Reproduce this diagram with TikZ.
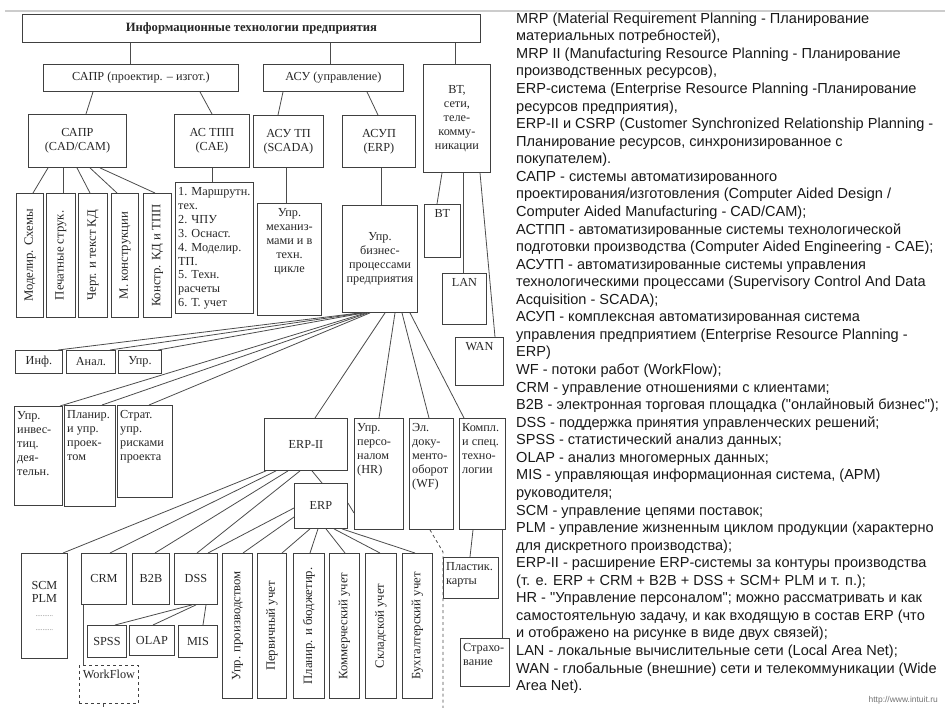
\documentclass[tikz,border=0pt]{standalone}
\usepackage{fontspec}
\setmainfont{Liberation Serif}
\newfontfamily\legendfont{Liberation Sans}
\begin{document}
\begin{tikzpicture}[x=1bp, y=-1bp,
	box/.style={draw=black!75, line width=0.9bp, inner sep=0pt, anchor=north west, align=center, text=black!85, font=\fontsize{12.3}{14}\selectfont},
	sz/.style 2 args={minimum width=#1bp, minimum height=#2bp},
	lbl/.style={inner xsep=3bp, inner ysep=5bp, align=left, text=black!85, font=\fontsize{12.3}{14}\selectfont},
	tl/.style={label={[lbl, anchor=north west]north west:{#1}}},
	tc/.style={label={[lbl, anchor=north, align=center]north:{#1}}},
	vert/.style={font=\fontsize{12.8}{14}\selectfont},
	link/.style={draw=black!70, line width=0.8bp}]
	\useasboundingbox (0,0) rectangle (945,708);
	\draw[black!20, line width=1.5bp] (5,11) -- (945,11);

	% top levels
	\node[box, sz={458}{28}, font=\fontsize{12.7}{14}\selectfont\bfseries] (title) at (22,14) {Информационные технологии предприятия};
	\node[box, sz={195}{27}] (sapr) at (43,64) {САПР (проектир. – изгот.)};
	\node[box, sz={140}{27}] (asu) at (263,64) {АСУ (управление)};
	\node[box, sz={67}{108}] (vt) at (423,64) {ВТ,\\сети,\\теле-\\комму-\\никации};

	\node[box, sz={98}{53}] (cadcam) at (28,114) {САПР\\(CAD/CAM)};
	\node[box, sz={75}{53}] (astpp) at (174,114) {АС ТПП\\(CAE)};
	\node[box, sz={70}{52}] (asutp) at (253,115) {АСУ ТП\\(SCADA)};
	\node[box, sz={73}{52}] (asup) at (342,115) {АСУП\\(ERP)};

	% CAD/CAM
	\node[box, vert, sz={27}{124}] (m1) at (16,193) {\rotatebox{90}{Моделир. Схемы}};
	\node[box, vert, sz={29}{124}] (m2) at (46,193) {\rotatebox{90}{Печатные струк.}};
	\node[box, vert, sz={29}{124}] (m3) at (78,193) {\rotatebox{90}{Черт. и текст КД}};
	\node[box, vert, sz={27}{124}] (m4) at (111,193) {\rotatebox{90}{М. конструкции}};
	\node[box, vert, sz={28}{124}] (m5) at (143,193) {\rotatebox{90}{Констр. КД и ТПП}};
	\node[box, sz={78}{131}, tl={1. Маршрутн.\\тех.\\2. ЧПУ\\3. Оснаст.\\4. Моделир.\\ТП.\\5. Техн.\\расчеты\\6. Т. учет}] (tpplist) at (175,182) {};

	% ASU
	\node[box, sz={64}{112}, tc={Упр.\\механиз-\\мами и в\\техн.\\цикле}] (mech) at (257,203) {};
	\node[box, sz={75}{107}] (bp) at (342,205) {Упр.\\бизнес-\\процессами\\предприятия};

	% VT
	\node[box, sz={36}{53}, tc={ВТ}] (vtsub) at (424,204) {};
	\node[box, sz={44}{51}, tc={LAN}] (lan) at (442,273) {};
	\node[box, sz={48}{48}, tc={WAN}] (wan) at (455,337) {};

	\node[box, sz={47}{23}] (inf) at (15,350) {Инф.};
	\node[box, sz={49}{23}] (anal) at (66,350) {Анал.};
	\node[box, sz={43}{23}] (upr) at (118,350) {Упр.};

	\node[box, sz={48}{99}, tl={Упр.\\инвес-\\тиц.\\дея-\\тельн.}] (inv) at (14,406) {};
	\node[box, sz={51}{101}, tl={Планир.\\и упр.\\проек-\\том}] (plan) at (64,405) {};
	\node[box, sz={55}{92}, tl={Страт.\\упр.\\рисками\\проекта}] (strat) at (117,405) {};

	% ERP
	\node[box, sz={83}{52}] (erp2) at (264,418) {ERP-II};
	\node[box, sz={53}{45}] (erp) at (294,483) {ERP};
	\node[box, sz={49}{111}, tl={Упр.\\персо-\\налом\\(HR)}] (hr) at (354,418) {};
	\node[box, sz={44}{111}, tl={Эл.\\доку-\\менто-\\оборот\\(WF)}] (wf) at (409,418) {};
	\node[box, sz={46}{111}, tl={Компл.\\и спец.\\техно-\\логии}] (kompl) at (459,418) {};

	\node[box, sz={46}{105}] (scm) at (21,553) {SCM\\PLM\\{\color{black!55}\fontsize{7}{14}\selectfont ..........}\\{\color{black!55}\fontsize{7}{12}\selectfont ..........}};
	\node[box, sz={45}{51}] (crm) at (81,553) {CRM};
	\node[box, sz={37}{51}] (b2b) at (132,553) {B2B};
	\node[box, sz={43}{51}] (dss) at (174,553) {DSS};
	\node[box, sz={39}{32}] (spss) at (87,625) {SPSS};
	\node[box, sz={45}{30}] (olap) at (129,625) {OLAP};
	\node[box, sz={39}{32}] (mis) at (178,625) {MIS};
	\node[box, sz={59}{38}, dashed, tc={WorkFlow}] (wflow) at (79,665) {};

	\node[box, vert, sz={30}{145}] (uprpr) at (222,553) {\rotatebox{90}{Упр. производством}};
	\node[box, vert, sz={29}{145}] (perv) at (257,553) {\rotatebox{90}{Первичный учет}};
	\node[box, vert, sz={31}{145}] (planb) at (293,553) {\rotatebox{90}{Планир. и бюджетир.}};
	\node[box, vert, sz={30}{145}] (komm) at (329,553) {\rotatebox{90}{Коммерческий учет}};
	\node[box, vert, sz={31}{145}] (sklad) at (365,553) {\rotatebox{90}{Складской учет}};
	\node[box, vert, sz={30}{145}] (buh) at (402,553) {\rotatebox{90}{Бухгалтерский учет}};

	\node[box, sz={55}{41}, tl={Пластик.\\карты}] (plast) at (443,557) {};
	\node[box, sz={49}{48}, tl={Страхо-\\вание}] (strah) at (460,638) {};

	% connectors
	\draw[link] (title.south -| 130,0) -- (sapr.north -| 130,0);
	\draw[link] (title.south -| 330,0) -- (asu.north -| 330,0);
	\draw[link] (title.south -| 455,0) -- (vt.north -| 455,0);
	\draw[link] (sapr.south -| 93,0) -- (cadcam.north -| 86,0);
	\draw[link] (sapr.south -| 200,0) -- (astpp.north -| 212,0);
	\draw[link] (asu.south -| 283,0) -- (asutp.north -| 278,0);
	\draw[link] (asu.south -| 367,0) -- (asup.north -| 378,0);

	\foreach \sx/\tg/\tx in {48/m1/33, 63/m2/63, 77/m3/90, 90/m4/117, 100/m5/155}
		\draw[link] (cadcam.south -| \sx,0) -- (\tg.north -| \tx,0);
	\draw[link] (astpp.south -| 212,0) -- (tpplist.north -| 212,0);
	\draw[link] (asutp.south -| 286,0) -- (mech.north -| 286,0);
	\draw[link] (asup.south -| 381,0) -- (bp.north -| 381,0);

	\draw[link] (vt.south -| 442,0) -- (vtsub.north -| 437,0);
	\draw[link] (vt.south -| 463,0) -- (lan.north -| 463,0);
	\draw[link] (vt.south -| 480,0) -- (wan.north -| 495,0);

	\foreach \sx/\tg/\tx in {360/inf/58, 362/anal/110, 364/upr/158, 366/inv/60, 368/plan/102, 370/strat/149}
		\draw[link] (bp.south -| \sx,0) -- (\tg.north -| \tx,0);
	\foreach \sx/\tg/\tx in {385/erp2/315, 395/hr/379, 402/wf/429, 410/kompl/464}
		\draw[link] (bp.south -| \sx,0) -- (\tg.north -| \tx,0);

	\draw[link] (erp2.south -| 312,0) -- (erp.north -| 322,0);
	\draw[link] (erp.east |- 0,503) -- (hr.west |- 0,513);
	\foreach \sx/\tg/\tx in {266/scm/63, 276/crm/110, 288/b2b/155, 300/dss/197}
		\draw[link] (erp2.south -| \sx,0) -- (\tg.north -| \tx,0);
	\draw[link] (erp.west |- 0,508) -- (dss.north -| 208,0);
	\draw[link] (erp.west |- 0,517) -- (uprpr.north -| 243,0);
	\foreach \sx/\tg/\tx in {310/perv/282, 318/planb/310, 326/komm/345, 334/sklad/380, 342/buh/415}
		\draw[link] (erp.south -| \sx,0) -- (\tg.north -| \tx,0);

	\draw[link] (dss.south -| 192,0) -- (spss.north -| 115,0);
	\draw[link] (dss.south -| 196,0) -- (olap.north -| 153,0);
	\draw[link] (dss.south -| 206,0) -- (mis.north -| 203,0);
	\draw[link] (crm.south -| 83,0) -- (wflow.north -| 83,0);

	\draw[link] (kompl.south -| 473,0) -- (plast.north -| 470,0);
	\draw[link] (kompl.south -| 502,0) -- (strah.north -| 502,0);

	\coordinate (wfbend) at (443,552);
	\coordinate (wfend) at (443,708);
	\coordinate (wflowend) at (103,708);
	\draw[link, dashed] (wf.south -| 430,0) -- (wfbend) -- (wfend);
	\draw[link, dashed] (wflow.south -| 103,0) -- (wflowend);

	% legend
	\node[anchor=north west, inner sep=0pt, align=left, text=black!90, font=\legendfont\fontsize{14.6}{17.63}\selectfont] (legend) at (516,12.5) {MRP (Material Requirement Planning - Планирование\\
материальных потребностей),\\
MRP II (Manufacturing Resource Planning - Планирование\\
производственных ресурсов),\\
ERP-система (Enterprise Resource Planning -Планирование\\
ресурсов предприятия),\\
ERP-II и CSRP (Customer Synchronized Relationship Planning -\\
Планирование ресурсов, синхронизированное с\\
покупателем).\\
САПР - системы автоматизированного\\
проектирования/изготовления (Computer Aided Design /\\
Computer Aided Manufacturing - CAD/CAM);\\
АСТПП - автоматизированные системы технологической\\
подготовки производства (Computer Aided Engineering - CAE);\\
АСУТП - автоматизированные системы управления\\
технологическими процессами (Supervisory Control And Data\\
Acquisition - SCADA);\\
АСУП - комплексная автоматизированная система\\
управления предприятием (Enterprise Resource Planning -\\
ERP)\\
WF - потоки работ (WorkFlow);\\
CRM - управление отношениями с клиентами;\\
B2B - электронная торговая площадка ("онлайновый бизнес");\\
DSS - поддержка принятия управленческих решений;\\
SPSS - статистический анализ данных;\\
OLAP - анализ многомерных данных;\\
MIS - управляющая информационная система, (АРМ)\\
руководителя;\\
SCM - управление цепями поставок;\\
PLM - управление жизненным циклом продукции (характерно\\
для дискретного производства);\\
ERP-II - расширение ERP-системы за контуры производства\\
(т. е. ERP + CRM + B2B + DSS + SCM+ PLM и т. п.);\\
HR - "Управление персоналом"; можно рассматривать и как\\
самостоятельную задачу, и как входящую в состав ERP (что\\
и отображено на рисунке в виде двух связей);\\
LAN - локальные вычислительные сети (Local Area Net);\\
WAN - глобальные (внешние) сети и телекоммуникации (Wide\\
Area Net).};
	\node[anchor=east, inner sep=0pt, text=black!55, font=\legendfont\fontsize{8.5}{10}\selectfont] (url) at (938,700) {http://www.intuit.ru};
\end{tikzpicture}
\end{document}
